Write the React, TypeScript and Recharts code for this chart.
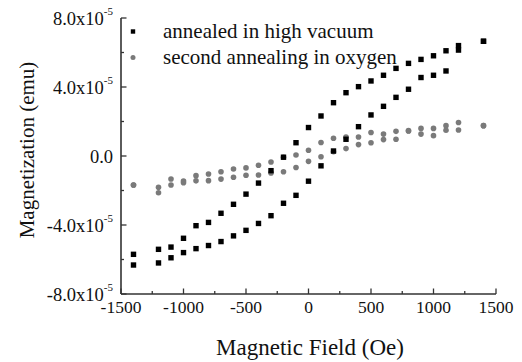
import React from 'react';
import { ScatterChart, Scatter, XAxis, YAxis } from 'recharts';

// Applied field (Oe) at each measurement step
const fields = [-1400, -1200, -1100, -1000, -900, -800, -700, -600, -500, -400, -300, -200, -100, 0, 100, 200, 300, 400, 500, 600, 700, 800, 900, 1000, 1100, 1200, 1400];

// Magnetization in units of 1e-5 emu
const vacuumDown = [-5.7, -5.41, -5.28, -4.77, -4.04, -3.85, -3.32, -2.8, -2.21, -1.57, -0.85, -0.07, 0.77, 1.65, 2.32, 3.09, 3.67, 4.02, 4.35, 4.68, 5.08, 5.37, 5.6, 5.81, 6.1, 6.4, 6.65];
const vacuumUp = [-6.32, -6.2, -5.9, -5.6, -5.37, -5.19, -4.96, -4.63, -4.31, -3.91, -3.46, -2.74, -2.28, -1.46, -0.57, 0.29, 0.97, 1.7, 2.38, 2.88, 3.4, 3.87, 4.55, 4.68, 4.93, 6.14, 6.65];
const oxygenDown = [-1.68, -1.81, -1.33, -1.45, -1.14, -1.04, -0.91, -0.75, -0.69, -0.54, -0.35, -0.07, 0.06, 0.33, 0.78, 1.03, 1.1, 1.1, 1.36, 1.27, 1.43, 1.47, 1.6, 1.6, 1.76, 1.94, 1.76];
const oxygenUp = [-1.68, -2.13, -1.68, -1.55, -1.44, -1.43, -1.34, -1.23, -1.12, -1.1, -0.98, -0.91, -0.67, -0.31, -0.04, 0.25, 0.43, 0.66, 0.77, 0.95, 0.97, 1.45, 1.27, 1.18, 1.49, 1.51, 1.76];

const seriesNames = ['annealed in high vacuum', 'second annealing in oxygen'];

// Major ticks every 500 Oe / 4e-5 emu, minor halfway between
const xTicks = [-1500, -1250, -1000, -750, -500, -250, 0, 250, 500, 750, 1000, 1250, 1500];
const yTicks = [-8, -6, -4, -2, 0, 2, 4, 6, 8];

const toPoints = (vals: number[]) => fields.map((h, i) => ({ h, m: vals[i] }));
const vacuumData = [...toPoints(vacuumDown), ...toPoints(vacuumUp)];
const oxygenData = [...toPoints(oxygenDown), ...toPoints(oxygenUp)];

const FONT = 'Liberation Serif, DejaVu Serif, serif';
const AXIS = '#333';
const GREY = '#7a7a7a';
const INK = '#111';

const isMajorX = (v: number) => v % 500 === 0;
const isMajorY = (v: number) => v % 4 === 0;

const BottomTick = (props: any) => {
  const { x, y, payload } = props;
  const major = isMajorX(payload.value);
  return (
    <g>
      <line x1={x} y1={y} x2={x} y2={y - (major ? 5.5 : 3)} stroke={AXIS} strokeWidth={1.3} />
      {major && (
        <text x={x} y={y + 19} textAnchor="middle" style={{ fontFamily: FONT, fontSize: 17.5 }} fill={INK}>
          {payload.value}
        </text>
      )}
    </g>
  );
};

const TopTick = (props: any) => {
  const { x, y, payload } = props;
  const major = isMajorX(payload.value);
  return <line x1={x} y1={y} x2={x} y2={y + (major ? 5.5 : 3)} stroke={AXIS} strokeWidth={1.3} />;
};

const LeftTick = (props: any) => {
  const { x, y, payload } = props;
  const v = payload.value as number;
  const major = isMajorY(v);
  return (
    <g>
      <line x1={x} y1={y} x2={x + (major ? 5.5 : 3)} y2={y} stroke={AXIS} strokeWidth={1.3} />
      {major && (
        <text x={x - 8} y={y + 7} textAnchor="end" style={{ fontFamily: FONT, fontSize: 18.5 }} fill={INK}>
          {v === 0 ? (
            '0.0'
          ) : (
            <>
              <tspan>{`${v.toFixed(1)}x10`}</tspan>
              <tspan dy={-10} style={{ fontSize: 11 }}>-5</tspan>
            </>
          )}
        </text>
      )}
    </g>
  );
};

const RightTick = (props: any) => {
  const { x, y, payload } = props;
  const major = isMajorY(payload.value);
  return <line x1={x} y1={y} x2={x - (major ? 5.5 : 3)} y2={y} stroke={AXIS} strokeWidth={1.3} />;
};

const XTitle = (props: any) => {
  const { viewBox } = props;
  return (
    <text x={viewBox.x + viewBox.width / 2 + 1.5} y={viewBox.y + 61} textAnchor="middle" style={{ fontFamily: FONT, fontSize: 23 }} fill={INK}>
      Magnetic Field (Oe)
    </text>
  );
};

const YTitle = (props: any) => {
  const { viewBox } = props;
  const x = viewBox.x + 34;
  const y = viewBox.y + viewBox.height / 2 - 6;
  return (
    <text x={x} y={y} transform={`rotate(-90 ${x} ${y})`} textAnchor="middle" style={{ fontFamily: FONT, fontSize: 21 }} fill={INK}>
      Magnetization (emu)
    </text>
  );
};

const SquareDot = (props: any) => {
  const { cx, cy } = props;
  return <rect x={cx - 2.7} y={cy - 2.7} width={5.4} height={5.4} fill="#000" />;
};

const RoundDot = (props: any) => {
  const { cx, cy } = props;
  return <circle cx={cx} cy={cy} r={2.8} fill={GREY} />;
};

const LegendBox = () => (
  <div style={{ position: 'absolute', left: 128, top: 18, fontFamily: FONT, fontSize: 21, color: INK }}>
    {seriesNames.map((name, i) => (
      <div key={name} style={{ display: 'flex', height: 26, whiteSpace: 'nowrap' }}>
        <svg width={10} height={26} style={{ flex: 'none' }}>
          {i === 0 ? <rect x={2.8} y={11.3} width={4.4} height={4.4} fill="#000" /> : <circle cx={5} cy={13.5} r={2.5} fill={GREY} />}
        </svg>
        <span style={{ marginLeft: 25, lineHeight: '26px' }}>{name}</span>
      </div>
    ))}
  </div>
);

export default function App() {
  return (
    <div style={{ position: 'absolute', left: 0, top: 0, width: 522, height: 362 }}>
      <ScatterChart width={522} height={362} margin={{ top: 18, right: 26, bottom: 0, left: 0 }}>
        <XAxis
          dataKey="h"
          type="number"
          domain={[-1500, 1500]}
          ticks={xTicks}
          interval={0}
          height={68}
          tickSize={0}
          tickMargin={0}
          tickLine={false}
          axisLine={{ stroke: AXIS, strokeWidth: 1.6 }}
          tick={<BottomTick />}
          label={<XTitle />}
        />
        <XAxis
          xAxisId="top"
          orientation="top"
          type="number"
          domain={[-1500, 1500]}
          ticks={xTicks}
          interval={0}
          height={0}
          tickSize={0}
          tickMargin={0}
          tickLine={false}
          axisLine={{ stroke: AXIS, strokeWidth: 1.6 }}
          tick={<TopTick />}
        />
        <YAxis
          dataKey="m"
          type="number"
          domain={[-8, 8]}
          ticks={yTicks}
          interval={0}
          width={121}
          tickSize={0}
          tickMargin={0}
          tickLine={false}
          axisLine={{ stroke: AXIS, strokeWidth: 1.6 }}
          tick={<LeftTick />}
          label={<YTitle />}
        />
        <YAxis
          yAxisId="right"
          orientation="right"
          type="number"
          domain={[-8, 8]}
          ticks={yTicks}
          interval={0}
          width={0}
          tickSize={0}
          tickMargin={0}
          tickLine={false}
          axisLine={{ stroke: AXIS, strokeWidth: 1.6 }}
          tick={<RightTick />}
        />
        <Scatter name={seriesNames[1]} data={oxygenData} shape={<RoundDot />} isAnimationActive={false} />
        <Scatter name={seriesNames[0]} data={vacuumData} shape={<SquareDot />} isAnimationActive={false} />
      </ScatterChart>
      <LegendBox />
    </div>
  );
}
